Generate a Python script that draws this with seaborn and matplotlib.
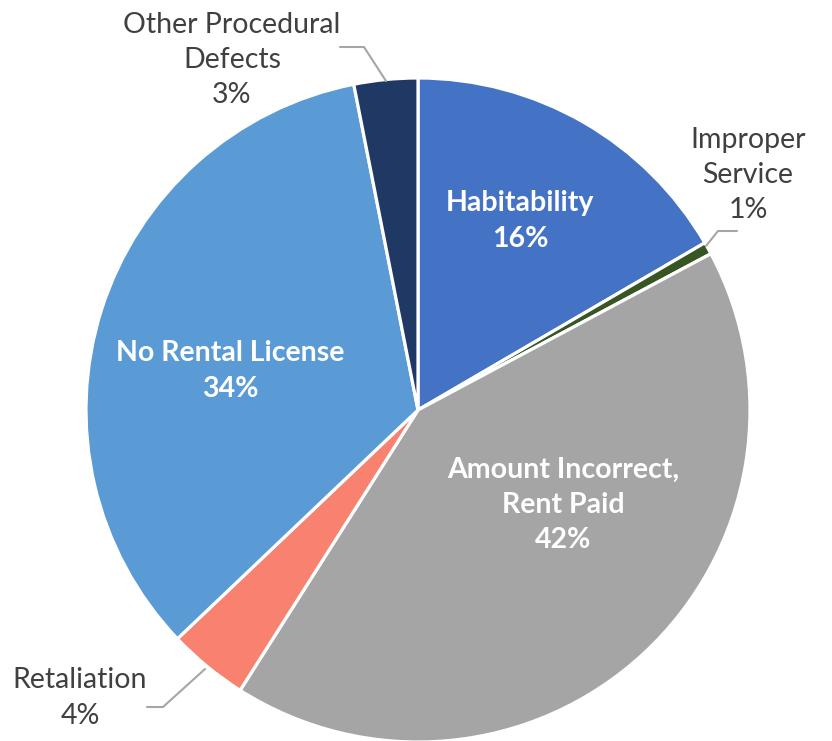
import matplotlib
matplotlib.use("Agg")
import matplotlib.pyplot as plt
import seaborn as sns

# slice data (clockwise from 12 o'clock)
categories = ["Habitability", "Improper Service", "Amount Incorrect, Rent Paid",
              "Retaliation", "No Rental License", "Other Procedural Defects"]
shares = [16.6, 0.6, 41.8, 3.9, 34.0, 3.1]
pct_labels = ["16%", "1%", "42%", "4%", "34%", "3%"]
colors = ["#4472C4", "#375623", "#A5A5A5", "#F8816F", "#5B9BD5", "#203864"]

sns.set_theme(style="white")
plt.rcParams['font.family'] = ['Lato', 'DejaVu Sans']

W, H = 832, 741
CX, CY, R = 418, 410, 332

def pt(px, py):
    # pixel position -> data coords (pie radius = 1)
    return (px - CX) / R, (CY - py) / R

fig = plt.figure(figsize=(W / 100, H / 100), dpi=100)
ax = fig.add_axes([0, 0, 1, 1])
ax.pie(shares, colors=colors, startangle=90, counterclock=False, radius=1,
       wedgeprops=dict(edgecolor="white", linewidth=2.3))
ax.set_xlim(-CX / R, (W - CX) / R)
ax.set_ylim(-(H - CY) / R, CY / R)
ax.set_aspect("auto")
ax.axis("off")

fs = 20.5
ls = 1.45
inside = {
    0: ("Habitability\n" + pct_labels[0], (520, 221)),
    2: ("Amount Incorrect,\nRent Paid\n" + pct_labels[2], (563, 505)),
    4: ("No Rental License\n" + pct_labels[4], (230, 371)),
}
for i, (txt, (px, py)) in inside.items():
    ax.text(*pt(px, py), txt, ha="center", va="center", color="white",
            fontsize=fs, fontweight="bold", linespacing=ls)

outside = {
    1: ("Improper\nService\n" + pct_labels[1], (748, 175), [(706, 246), (718, 231), (737, 231)]),
    3: ("Retaliation\n" + pct_labels[3], (80, 698), [(205, 669), (163, 707), (147, 707)]),
    5: ("Other Procedural\nDefects\n" + pct_labels[5], (232, 60), [(386, 81), (364, 47), (340, 47)]),
}
for i, (txt, (px, py), line) in outside.items():
    ax.text(*pt(px, py), txt, ha="center", va="center", color="#404040",
            fontsize=fs, linespacing=ls)
    xs, ys = zip(*[pt(a, b) for a, b in line])
    ax.plot(xs, ys, color="#A6A6A6", lw=1.5)

fig.savefig("out.png", dpi=100)
